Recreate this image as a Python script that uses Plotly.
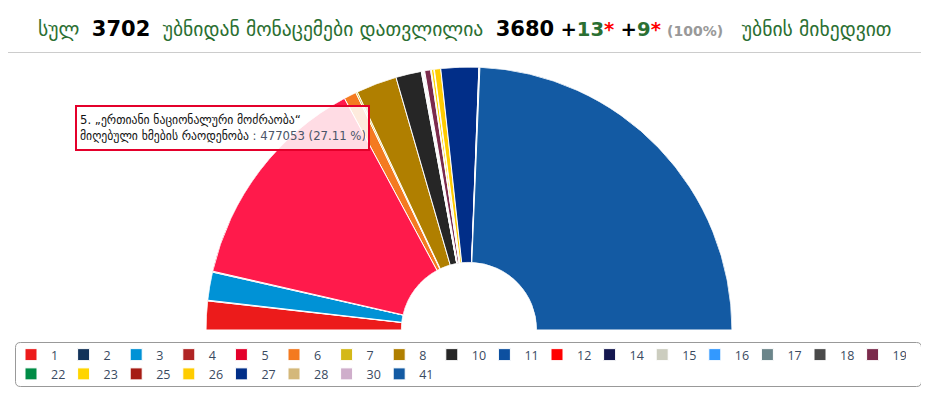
import plotly.graph_objects as go

# the page body adds an 8px margin; the figure fills the rest of the window
OX, OY = 8, 8
FW, FH = 929 - OX, 393 - OY

# ---- data ----
parties = ["1", "2", "3", "4", "5", "6", "7", "8", "10", "11", "12", "14", "15",
           "16", "17", "18", "19", "22", "23", "25", "26", "27", "28", "30", "41"]
votes = [62166, 1489, 60691, 2000, 477053, 27324, 3500, 88097, 55208, 1200, 700,
         900, 1100, 600, 1300, 1500, 12895, 1600, 5500, 1000, 13669, 81464, 900,
         1200, 856638]
colors = ["#ec1b1b", "#12335a", "#0092d6", "#b02424", "#e4002b", "#f47a20",
          "#d4b818", "#b07f00", "#262626", "#0d50a0", "#ff0000", "#14174f",
          "#cccdbf", "#3399ff", "#6b858a", "#4a4a4a", "#7b2a4c", "#008c46",
          "#ffd500", "#a61c14", "#ffcc00", "#012e88", "#d4b87a", "#cfaecb",
          "#135aa3"]
highlight_party = "5"
highlight_name = "„ერთიანი ნაციონალური მოძრაობა“"
highlight_color = "#ff1a4b"

total_precincts = 3702
counted_precincts = 3680
extra_a = 13
extra_b = 9
counted_pct = "100%"


def X(x):
    return (x - OX) / FW


def Y(y):
    return 1 - (y - OY) / FH


# ---- figure ----
total = sum(votes)
fig = go.Figure()
cum = 0.0
hl = None
for p, v, c in zip(parties, votes, colors):
    w = v / total * 180.0
    th = cum + w / 2
    cum += w
    fig.add_trace(go.Barpolar(
        r=[1], theta=[th], width=[w], name=p,
        marker=dict(color=c, line=dict(color="white", width=1)),
        hoverinfo="skip"))
    if p == highlight_party:
        hl = (v, th, w)

# highlighted (hovered) slice drawn on top
fig.add_trace(go.Barpolar(
    r=[1], theta=[hl[1]], width=[hl[2]], showlegend=False,
    marker=dict(color=highlight_color, line=dict(color="white", width=1)),
    hoverinfo="skip"))

fig.update_layout(
    width=FW, height=FH, autosize=False,
    margin=dict(l=0, r=0, t=0, b=0),
    paper_bgcolor="white",
    showlegend=True,
    polar=dict(
        domain=dict(x=[X(206), X(732)], y=[Y(330), Y(67)]),
        sector=[0, 180],
        hole=0.257,
        bgcolor="white",
        bargap=0,
        barmode="overlay",
        radialaxis=dict(visible=False, range=[0, 1]),
        angularaxis=dict(visible=False, rotation=180, direction="clockwise"),
    ),
    legend=dict(
        orientation="h",
        x=X(11), y=Y(340), xanchor="left", yanchor="top",
        bgcolor="rgba(0,0,0,0)", borderwidth=0,
        font=dict(family="Open Sans", size=12.5, color="#3a4a5f"),
        entrywidth=7.6,
        itemclick=False, itemdoubleclick=False,
        tracegroupgap=0,
    ),
)


# legend frame (rounded)
def rounded_rect(x0, y0, x1, y1, r):
    return (f"M {X(x0 + r)} {Y(y0)} L {X(x1 - r)} {Y(y0)} Q {X(x1)} {Y(y0)} {X(x1)} {Y(y0 + r)} "
            f"L {X(x1)} {Y(y1 - r)} Q {X(x1)} {Y(y1)} {X(x1 - r)} {Y(y1)} "
            f"L {X(x0 + r)} {Y(y1)} Q {X(x0)} {Y(y1)} {X(x0)} {Y(y1 - r)} "
            f"L {X(x0)} {Y(y0 + r)} Q {X(x0)} {Y(y0)} {X(x0 + r)} {Y(y0)} Z")


fig.add_shape(type="path", xref="paper", yref="paper",
              path=rounded_rect(15.5, 342.5, 921.5, 386.5, 5),
              line=dict(color="#999999", width=1))
# header separator
fig.add_shape(type="line", xref="paper", yref="paper",
              x0=0, x1=1, y0=Y(52.5), y1=Y(52.5),
              line=dict(color="#cccccc", width=1))

NB = "\u00a0"
green = "#2b6f32"
title = (f"სულ{NB}{NB}<b><span style='color:black;font-size:21px'>{total_precincts}</span></b>{NB}{NB}"
         f"უბნიდან მონაცემები დათვლილია{NB}{NB}"
         f"<b><span style='color:black;font-size:21px'>{counted_precincts}</span></b>{NB}"
         f"<b><span style='color:black'>+</span>{extra_a}<span style='color:red'>*</span></b>{NB}"
         f"<b><span style='color:black'>+</span>{extra_b}<span style='color:red'>*</span></b>{NB}"
         f"<b><span style='color:#999999;font-size:14px'>({counted_pct})</span></b>{NB}{NB}{NB}"
         f"უბნის მიხედვით")
fig.add_annotation(text=title, xref="paper", yref="paper", x=X(465), y=Y(29),
                   xanchor="center", yanchor="middle", showarrow=False,
                   font=dict(family="DejaVu Sans", size=19.6, color=green))

pct = hl[0] / total * 100
tip = (f"{highlight_party}. {highlight_name}<br>"
       f"მიღებული ხმების რაოდენობა<span style='color:#4a5568'> : {hl[0]} ({pct:.2f} %)</span>")
fig.add_annotation(text=tip, xref="paper", yref="paper", x=X(75), y=Y(105),
                   xanchor="left", yanchor="top", showarrow=False, align="left",
                   width=285, height=36, valign="middle",
                   font=dict(family="DejaVu Sans", size=11.7, color="#111111"),
                   bgcolor="rgba(255,255,255,0.85)", bordercolor="#e4002b",
                   borderwidth=2, borderpad=3)

fig.write_html("out.html")
